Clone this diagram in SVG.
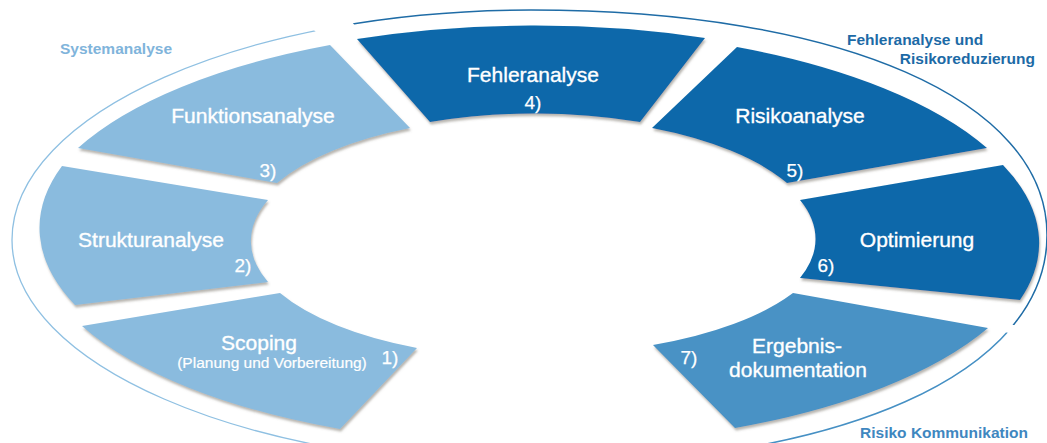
<svg xmlns="http://www.w3.org/2000/svg" width="1047" height="443" viewBox="0 0 1047 443">
  <style>
    .light { fill: #8abbde; }
    .dark { fill: #0b68aa; }
    .mid { fill: #4892c5; }
    .seg { filter: url(#shadow); }
    .lbl { font-family: "Liberation Sans", Arial, sans-serif; font-size: 21px; fill: #ffffff; stroke: #ffffff; stroke-width: 0.35px; text-anchor: middle; }
    .num { font-family: "Liberation Sans", Arial, sans-serif; font-size: 19px; fill: #ffffff; stroke: #ffffff; stroke-width: 0.25px; text-anchor: middle; }
    .sub { font-family: "Liberation Sans", Arial, sans-serif; font-size: 15.5px; fill: #ffffff; stroke: #ffffff; stroke-width: 0.2px; text-anchor: middle; }
    .hdr { font-family: "Liberation Sans", Arial, sans-serif; font-size: 15.5px; font-weight: bold; }
    .arc { fill: none; }
  </style>
  <defs>
    <filter id="shadow" x="-10%" y="-10%" width="120%" height="130%">
      <feDropShadow dx="1" dy="2.5" stdDeviation="1.2" flood-color="#6f6a60" flood-opacity="0.5"/>
    </filter>
    <path id="guide" d="M531,10 C840.6,10 1047,100 1047,235 C1047,373 840.6,465 531,465 C244.5,465 12,364 12,240 C12,113 244.5,10 531,10 Z"/>
    <clipPath id="clipLight"><polygon points="531,240 -111,-381 -500,-381 -500,700 531,700"/></clipPath>
    <clipPath id="clipDark"><polygon points="531,240 -6,-414 1600,-414 1600,428"/></clipPath>
    <clipPath id="clipMid"><polygon points="531,240 1600,448 1600,700 531,700"/></clipPath>
  </defs>
  <rect width="1047" height="443" fill="#ffffff"/>

  <g id="connectors">
    <use href="#guide" class="arc" stroke="#8fc0e2" stroke-width="1.3" clip-path="url(#clipLight)"/>
    <use href="#guide" class="arc" stroke="#1f6ca6" stroke-width="1.5" clip-path="url(#clipDark)"/>
    <use href="#guide" class="arc" stroke="#4690c4" stroke-width="1.5" clip-path="url(#clipMid)"/>
  </g>

  <g id="node-scoping">
    <path class="seg light" d="M82,326 L280,293 A281,119 0 0 0 417,348 L340,429 A502,209 0 0 1 82,326 Z"/>
    <text class="lbl" x="259" y="350">Scoping</text>
    <text class="sub" x="272" y="368">(Planung und Vorbereitung)</text>
    <text class="num" x="390" y="364">1)</text>
  </g>

  <g id="node-struktur">
    <path class="seg light" d="M62,166 L268,200 A281,119 0 0 0 268,282 L75,305 A502,209 0 0 1 62,166 Z"/>
    <text class="lbl" x="151" y="247">Strukturanalyse</text>
    <text class="num" x="243" y="272">2)</text>
  </g>

  <g id="node-funktion">
    <path class="seg light" d="M330,45 A502,209 0 0 0 78,148 L277,183 A281,119 0 0 1 410,128 Z"/>
    <text class="lbl" x="253" y="123">Funktionsanalyse</text>
    <text class="num" x="268" y="177">3)</text>
  </g>

  <g id="node-fehler">
    <path class="seg dark" d="M357,39 A502,209 0 0 1 705,38 L640,122 A281,119 0 0 0 430,122 Z"/>
    <text class="lbl" x="533" y="82">Fehleranalyse</text>
    <text class="num" x="533" y="109">4)</text>
  </g>

  <g id="node-risiko">
    <path class="seg dark" d="M737,47 A502,209 0 0 1 987,148 L787,183 A281,119 0 0 0 652,128 Z"/>
    <text class="lbl" x="800" y="123">Risikoanalyse</text>
    <text class="num" x="795" y="177">5)</text>
  </g>

  <g id="node-optimierung">
    <path class="seg dark" d="M800,200 L1003,165 A502,209 0 0 1 1020,300 L800,278 A281,119 0 0 0 800,200 Z"/>
    <text class="lbl" x="917" y="247">Optimierung</text>
    <text class="num" x="826" y="272">6)</text>
  </g>

  <g id="node-ergebnis">
    <path class="seg mid" d="M653,345 A281,119 0 0 0 793,293 L988,328 A502,209 0 0 1 735,428 Z"/>
    <text class="lbl" x="797" y="353">Ergebnis-</text>
    <text class="lbl" x="798" y="377">dokumentation</text>
    <text class="num" x="689" y="364">7)</text>
  </g>

  <g id="headers">
    <text class="hdr" x="60" y="54" fill="#80b4db">Systemanalyse</text>
    <text class="hdr" x="847" y="45" fill="#1c6aa6">Fehleranalyse und</text>
    <text class="hdr" x="1035" y="64" fill="#1c6aa6" text-anchor="end">Risikoreduzierung</text>
    <text class="hdr" x="1028" y="438" fill="#3f87c0" text-anchor="end">Risiko Kommunikation</text>
  </g>
</svg>
